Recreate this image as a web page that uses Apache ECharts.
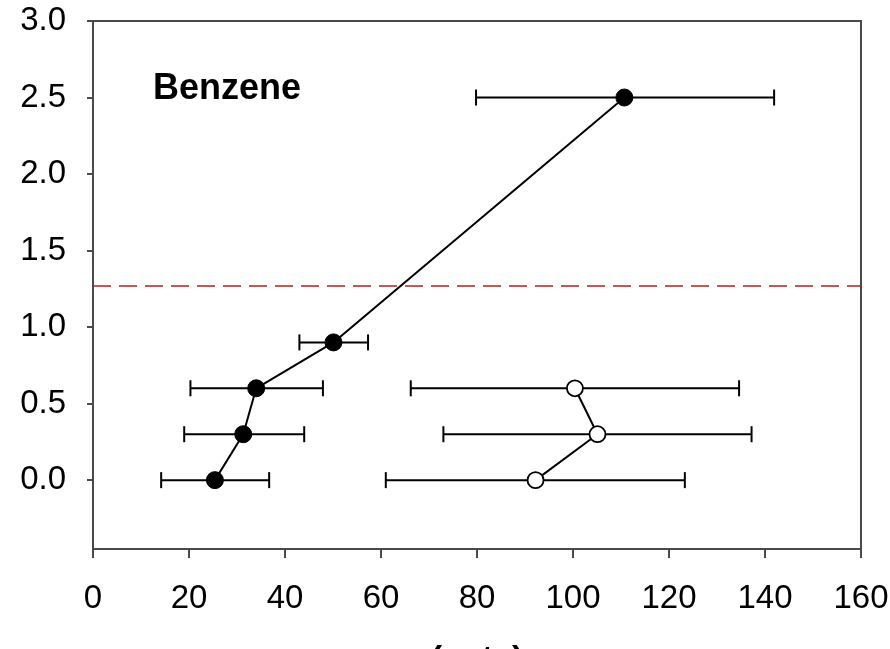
<!DOCTYPE html>
<html>
<head>
<meta charset="utf-8">
<style>
  html, body { margin: 0; padding: 0; background: #fff; }
  #chart { width: 890px; height: 649px; }
</style>
<script src="https://cdn.jsdelivr.net/npm/echarts@6/dist/echarts.min.js"></script>
</head>
<body>
<div id="chart"></div>
<script>
// Filled series: concentration levels, mean counts and the x error range
const filledY    = [0, 0.3, 0.6, 0.9, 2.5];
const filledX    = [25.4, 31.3, 34.0, 50.1, 110.7];
const filledLow  = [14.2, 19.0, 20.3, 43.0, 79.8];
const filledHigh = [36.7, 44.0, 47.9, 57.3, 141.9];

// Open series
const openY    = [0, 0.3, 0.6];
const openX    = [92.2, 105.1, 100.4];
const openLow  = [61.0, 73.0, 66.2];
const openHigh = [123.3, 137.2, 134.6];

// Reference threshold level
const thresholdY = 1.27;

// Axis ticks
const yTicks = [0, 0.5, 1.0, 1.5, 2.0, 2.5, 3.0];
const xTicks = [0, 20, 40, 60, 80, 100, 120, 140, 160];

const FONT = '"Liberation Sans", Arial, sans-serif';

function pairs(xs, ys) { return xs.map((x, i) => [x, ys[i]]); }
function bars(lo, hi, ys) { return lo.map((l, i) => [l, hi[i], ys[i]]); }

// Horizontal error bar with end caps
function renderErrorBar(params, api) {
  const lo = api.coord([api.value(0), api.value(2)]);
  const hi = api.coord([api.value(1), api.value(2)]);
  const cap = 8;
  const style = { stroke: '#000', lineWidth: 2 };
  return {
    type: 'group',
    children: [
      { type: 'line', shape: { x1: lo[0], y1: lo[1], x2: hi[0], y2: hi[1] }, style },
      { type: 'line', shape: { x1: lo[0], y1: lo[1] - cap, x2: lo[0], y2: lo[1] + cap }, style },
      { type: 'line', shape: { x1: hi[0], y1: hi[1] - cap, x2: hi[0], y2: hi[1] + cap }, style }
    ]
  };
}

const chart = echarts.init(document.getElementById('chart'), null, { renderer: 'canvas' });

chart.setOption({
  animation: false,
  backgroundColor: '#fff',
  grid: {
    left: 93, right: 29, top: 21, bottom: 100,
    outerBoundsMode: 'none',
    containLabel: false,
    show: true, borderColor: '#4a4a4a', borderWidth: 2, backgroundColor: 'transparent'
  },
  xAxis: {
    type: 'value',
    min: 0, max: 160, interval: 20,
    name: '(cnts)',
    nameLocation: 'middle',
    nameGap: 94,
    nameTextStyle: { fontFamily: FONT, fontSize: 34, fontWeight: 'bold', color: '#000' },
    splitLine: { show: false },
    axisLine: { show: true, onZero: false, lineStyle: { color: '#4a4a4a', width: 2 } },
    axisTick: { show: true, inside: false, length: 9, customValues: xTicks, lineStyle: { color: '#4a4a4a', width: 2 } },
    axisLabel: { margin: 33, fontFamily: FONT, fontSize: 33, color: '#000', customValues: xTicks }
  },
  yAxis: {
    type: 'value',
    min: -0.45, max: 3.0,
    splitLine: { show: false },
    axisLine: { show: true, onZero: false, lineStyle: { color: '#4a4a4a', width: 2 } },
    axisTick: { show: true, inside: false, length: 6, customValues: yTicks, lineStyle: { color: '#4a4a4a', width: 2 } },
    axisLabel: {
      margin: 27, fontFamily: FONT, fontSize: 33, color: '#000',
      customValues: yTicks,
      formatter: v => v.toFixed(1)
    }
  },
  graphic: [{
    type: 'text',
    left: 153, top: 71,
    style: { text: 'Benzene', fontFamily: FONT, fontSize: 36, fontWeight: 'bold', fill: '#000' }
  }],
  series: [
    {
      type: 'line',
      data: [],
      silent: true,
      markLine: {
        silent: true,
        symbol: 'none',
        label: { show: false },
        lineStyle: { color: '#b3201c', width: 1.5, type: [18, 8] },
        data: [{ yAxis: thresholdY }]
      }
    },
    {
      type: 'custom',
      renderItem: renderErrorBar,
      encode: { x: [0, 1], y: 2 },
      data: bars(filledLow, filledHigh, filledY),
      z: 2
    },
    {
      type: 'custom',
      renderItem: renderErrorBar,
      encode: { x: [0, 1], y: 2 },
      data: bars(openLow, openHigh, openY),
      z: 2
    },
    {
      type: 'line',
      data: pairs(filledX, filledY),
      symbol: 'circle',
      symbolSize: 17,
      itemStyle: { color: '#000', borderColor: '#000', borderWidth: 1 },
      lineStyle: { color: '#000', width: 2 },
      z: 3
    },
    {
      type: 'line',
      data: pairs(openX, openY),
      symbol: 'circle',
      symbolSize: 16,
      showAllSymbol: true,
      itemStyle: { color: '#fff', borderColor: '#000', borderWidth: 1.8 },
      lineStyle: { color: '#000', width: 2 },
      z: 3
    }
  ]
});
</script>
</body>
</html>
